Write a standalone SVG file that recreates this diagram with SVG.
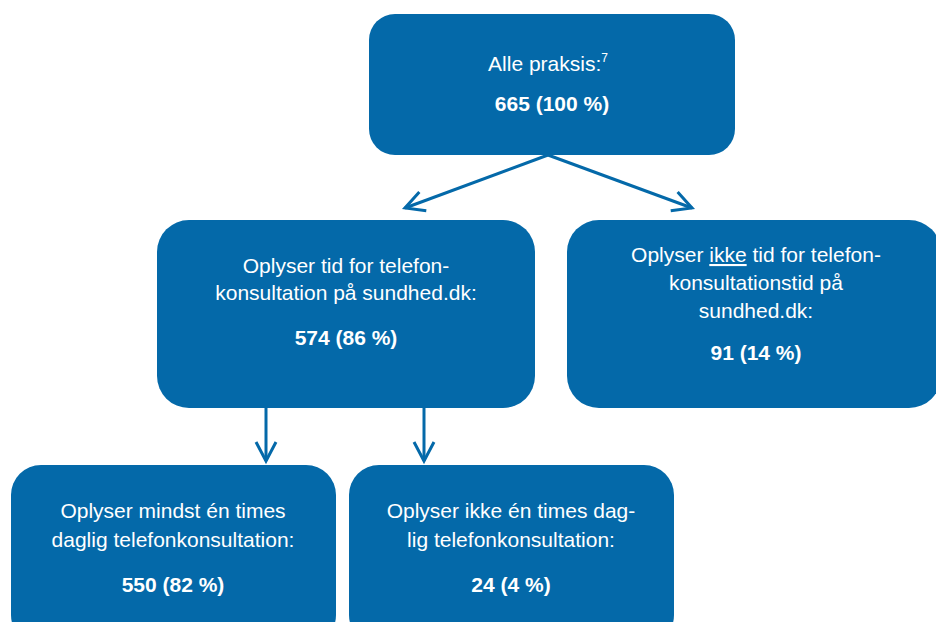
<svg xmlns="http://www.w3.org/2000/svg" width="936" height="622" viewBox="0 0 936 622">
<defs>
<style>
.box{fill:#0469a9;}
.t{font-family:"Liberation Sans",Arial,sans-serif;font-size:21px;fill:#ffffff;text-anchor:middle;}
.b{font-weight:bold;}
.c{stroke:#0469a9;stroke-width:3;fill:none;}
</style>
<marker id="ah" markerUnits="userSpaceOnUse" markerWidth="26" markerHeight="26" viewBox="0 0 26 26" refX="22" refY="13" orient="auto">
<path d="M3,3 L22,13 L3,23" fill="none" stroke="#0469a9" stroke-width="3"/>
</marker>
</defs>
<rect width="936" height="622" fill="#ffffff"/>
<g id="connectors">
<line class="c" x1="548" y1="155" x2="405" y2="208" marker-end="url(#ah)"/>
<line class="c" x1="548" y1="155" x2="692" y2="208" marker-end="url(#ah)"/>
<line class="c" x1="266" y1="408" x2="266" y2="461" marker-end="url(#ah)"/>
<line class="c" x1="424" y1="408" x2="424" y2="461" marker-end="url(#ah)"/>
</g>
<g id="node-alle">
<rect class="box" x="369" y="14" width="366" height="141" rx="26"/>
<text class="t" x="548" y="71">Alle praksis:<tspan font-size="12" dy="-9">7</tspan></text>
<text class="t b" x="552" y="111">665 (100 %)</text>
</g>
<g id="node-oplyser">
<rect class="box" x="157" y="220" width="378" height="188" rx="32"/>
<text class="t" x="346" y="273">Oplyser tid for telefon-</text>
<text class="t" x="346" y="300">konsultation på sundhed.dk:</text>
<text class="t b" x="346" y="345">574 (86 %)</text>
</g>
<g id="node-ikke">
<rect class="box" x="567" y="220" width="374" height="188" rx="32"/>
<text class="t" x="756" y="262">Oplyser <tspan text-decoration="underline">ikke</tspan> tid for telefon-</text>
<text class="t" x="756" y="290">konsultationstid på</text>
<text class="t" x="756" y="318">sundhed.dk:</text>
<text class="t b" x="756" y="360">91 (14 %)</text>
</g>
<g id="node-mindst">
<rect class="box" x="11" y="465" width="325" height="180" rx="30"/>
<text class="t" x="173" y="518">Oplyser mindst én times</text>
<text class="t" x="173" y="547">daglig telefonkonsultation:</text>
<text class="t b" x="173" y="592">550 (82 %)</text>
</g>
<g id="node-ikke-en">
<rect class="box" x="349" y="465" width="325" height="180" rx="30"/>
<text class="t" x="511" y="518">Oplyser ikke én times dag-</text>
<text class="t" x="511" y="547">lig telefonkonsultation:</text>
<text class="t b" x="511" y="592">24 (4 %)</text>
</g>
</svg>
